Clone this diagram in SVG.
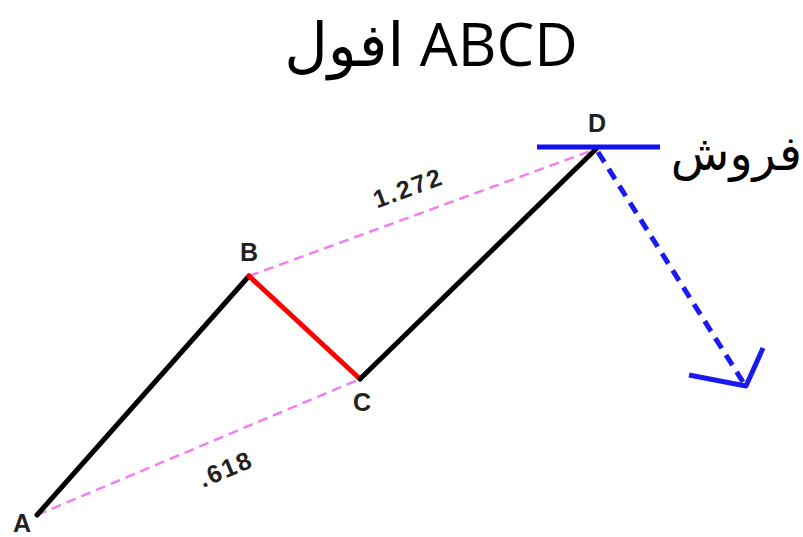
<svg xmlns="http://www.w3.org/2000/svg" width="803" height="537" viewBox="0 0 803 537">
<style>
.lbl{font-family:"Liberation Sans",Arial,sans-serif;font-weight:bold;font-size:25px;fill:#222;text-anchor:middle}
.num{font-size:25px;letter-spacing:2px}
.big{font-family:"Open Sans","DejaVu Sans",sans-serif;fill:#000}
.pink{stroke:#f27ef2;stroke-width:2.5;stroke-dasharray:10 6;fill:none}
.leg{stroke-width:5;fill:none;stroke-linecap:round}
</style>
<rect width="803" height="537" fill="#fff"/>
<text class="big" x="431" y="66" font-size="60" text-anchor="middle">افول ABCD</text>
<text class="big" x="802" y="170" font-size="48" text-anchor="end">فروش</text>
<g id="connectors">
<line class="pink" x1="249" y1="276" x2="596" y2="149"/>
<line class="pink" x1="37" y1="515" x2="360" y2="379"/>
<polyline class="leg" stroke="#000" points="37,515 249,276"/>
<polyline class="leg" stroke="#f00" points="249,276 360,379"/>
<polyline class="leg" stroke="#000" points="360,379 596,149"/>
<line x1="537" y1="147" x2="660" y2="147" stroke="#1010f0" stroke-width="5"/>
<line x1="598" y1="152" x2="743" y2="382" stroke="#1a1af0" stroke-width="5" stroke-dasharray="12 8"/>
<polyline points="689,375 746,386 763,348" stroke="#1a1af0" stroke-width="5" fill="none" stroke-linejoin="round"/>
</g>
<g id="A"><text class="lbl" x="22" y="532">A</text></g>
<g id="B"><text class="lbl" x="249" y="261">B</text></g>
<g id="C"><text class="lbl" x="362" y="411">C</text></g>
<g id="D"><text class="lbl" x="597" y="132">D</text></g>
<text class="lbl num" transform="translate(229,477) rotate(-22.8)">.618</text>
<text class="lbl num" transform="translate(411,196) rotate(-20)">1.272</text>
</svg>
